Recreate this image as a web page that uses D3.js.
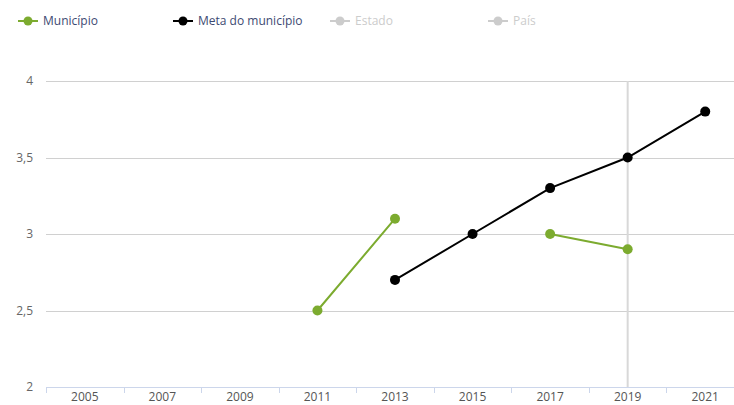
<!DOCTYPE html>
<html><head><meta charset="utf-8">
<script src="https://cdn.jsdelivr.net/npm/d3@7"></script>
<style>body{margin:0;background:#fff;}svg{display:block;font-family:"Open Sans",sans-serif;}</style>
</head><body><svg id="c" width="734" height="405"></svg>
<script>
const years = ["2005","2007","2009","2011","2013","2015","2017","2019","2021"];
const municipio = [null,null,null,2.5,3.1,null,3.0,2.9,null];
const meta = [null,null,null,null,2.7,3.0,3.3,3.5,3.8];
const yTicks = [2,2.5,3,3.5,4];
const yTickLabels = ["2","2,5","3","3,5","4"];
const legendNames = ["Município","Meta do município","Estado","País"];
const legendColors = ["#7cab2f","#000000","#cccccc","#cccccc"];
const legendTextColors = ["#3d4a72","#3d4a72","#cccccc","#cccccc"];
const crosshairYear = "2019";

const svg = d3.select("#c");
const x = d3.scaleBand().domain(years).range([46,744]);
const y = d3.scaleLinear().domain([2,4]).range([387,81]);

// gridlines
svg.append("g").selectAll("line").data(yTicks.filter(t=>t!==2)).join("line")
  .attr("x1",46).attr("x2",734).attr("y1",d=>Math.round(y(d))+0.5).attr("y2",d=>Math.round(y(d))+0.5)
  .attr("stroke","#d0d0d0").attr("stroke-width",1);
// y labels
svg.append("g").selectAll("text").data(yTicks).join("text")
  .attr("x",33).attr("y",d=>y(d)+4).attr("text-anchor","end")
  .attr("font-size",12).attr("fill","#666").text((d,i)=>yTickLabels[i]);

// crosshair
const cx = x(crosshairYear)+x.bandwidth()/2;
svg.append("line").attr("x1",cx).attr("x2",cx).attr("y1",81).attr("y2",387)
  .attr("stroke","#d8d8d8").attr("stroke-width",2);

// x axis
const xa = svg.append("g").attr("transform","translate(0,387)");
xa.append("line").attr("x1",46).attr("x2",734).attr("y1",0.5).attr("y2",0.5).attr("stroke","#ccd6eb");
xa.selectAll("line.t").data(years).join("line").attr("class","t")
  .attr("x1",d=>Math.round(x(d))+0.5).attr("x2",d=>Math.round(x(d))+0.5).attr("y1",0).attr("y2",6).attr("stroke","#ccd6eb");
xa.selectAll("text").data(years).join("text")
  .attr("x",d=>x(d)+x.bandwidth()/2).attr("y",14).attr("text-anchor","middle")
  .attr("font-size",12).attr("fill","#555").text(d=>d);

function drawSeries(vals,color){
  const pts = years.map((yr,i)=>({yr,v:vals[i]}));
  const line = d3.line().defined(d=>d.v!=null).x(d=>x(d.yr)+x.bandwidth()/2).y(d=>y(d.v));
  svg.append("path").datum(pts).attr("d",line).attr("fill","none").attr("stroke",color).attr("stroke-width",2);
  svg.append("g").selectAll("circle").data(pts.filter(d=>d.v!=null)).join("circle")
    .attr("cx",d=>x(d.yr)+x.bandwidth()/2).attr("cy",d=>y(d.v)).attr("r",5).attr("fill",color);
}
drawSeries(municipio,"#7cab2f");
drawSeries(meta,"#000000");

// legend
const legX = [18,173,330,488];
const lg = svg.append("g");
legendNames.forEach((n,i)=>{
  const g = lg.append("g").attr("transform",`translate(${legX[i]},21)`);
  g.append("line").attr("x1",0).attr("x2",20).attr("y1",0).attr("y2",0).attr("stroke",legendColors[i]).attr("stroke-width",2);
  g.append("circle").attr("cx",10).attr("cy",0).attr("r",4.5).attr("fill",legendColors[i]);
  g.append("text").attr("x",25).attr("y",4).attr("font-size",12).attr("fill",legendTextColors[i]).text(n);
});
</script></body></html>
